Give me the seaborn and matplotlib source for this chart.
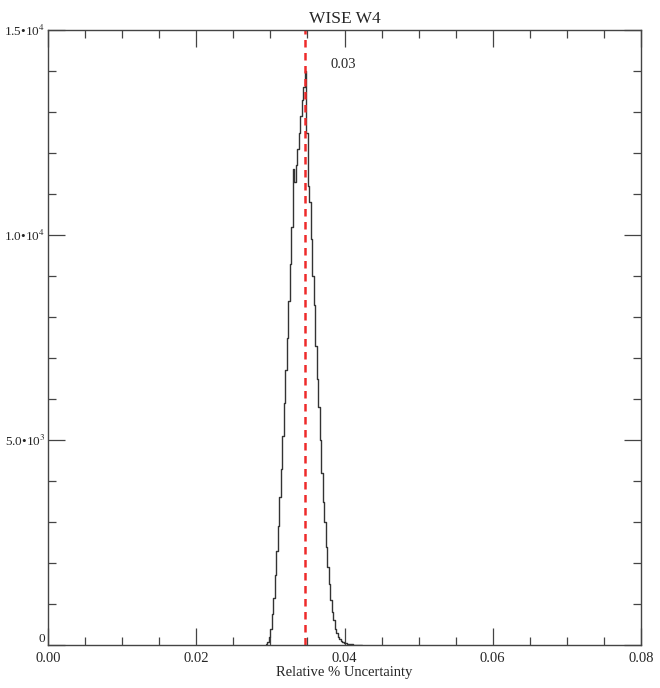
import numpy as np
import pandas as pd
import matplotlib
matplotlib.use('Agg')
import matplotlib.pyplot as plt
import seaborn as sns

# Histograma WISE W4: incertesa relativa (bins de 0.0002)
bin_start = 0.0294
bin_width = 0.0002
counts = [20, 80, 200, 400, 750, 1150, 1700, 2300, 2900, 3600,
          4300, 5100, 5900, 6700, 7500, 8400, 9300, 10200, 11600, 11300,
          11700, 12100, 12500, 12900, 13300, 13600, 14000, 12500, 11200, 10800,
          9900, 9000, 8300, 7300, 6500, 5800, 5000, 4200, 3500, 3000,
          2400, 1900, 1500, 1100, 800, 600, 400, 300, 200, 150,
          100, 80, 60, 45, 35, 25, 20, 15, 10, 8,
          6, 4, 3, 2, 1]
median_val = 0.0347
median_label = '0.03'
x_ticks = [0.00, 0.02, 0.04, 0.06, 0.08]
y_ticks = [0, 5000, 10000, 15000]
y_labels = ['0', '5.0•10$^{3}$', '1.0•10$^{4}$', '1.5•10$^{4}$']

edges = bin_start + bin_width * np.arange(len(counts) + 1)
df = pd.DataFrame({'x': (edges[:-1] + edges[1:]) / 2, 'n': counts})

sns.set_style('ticks')
plt.rcParams['font.family'] = ['Liberation Serif', 'DejaVu Serif']
plt.rcParams['mathtext.fontset'] = 'stix'

fig = plt.figure(figsize=(6.6, 6.88), dpi=100)
ax = fig.add_axes([48 / 660, 43 / 688, 593 / 660, 615 / 688])

sns.histplot(data=df, x='x', weights='n', binwidth=bin_width,
             binrange=(edges[0], edges[-1] - bin_width / 2), element='step',
             fill=False, color='#333333', linewidth=1.0, ax=ax)

ax.axvline(median_val, color='#ee2a2a', linestyle=(0, (3, 2.2)), linewidth=1.8)
ax.text(median_val + 0.0034, 14150, median_label, fontsize=10.5, ha='left', va='center')

ax.set_xlim(0, 0.08)
ax.set_ylim(0, 15000)
ax.set_xticks(x_ticks)
ax.set_xticklabels(['%.2f' % v for v in x_ticks], fontsize=10.5)
ax.set_xticks(np.arange(0, 0.0801, 0.005), minor=True)
ax.set_yticks(y_ticks)
ax.set_yticklabels(y_labels, fontsize=9.5)
ax.set_yticks(np.arange(0, 15001, 1000), minor=True)

ax.tick_params(which='both', direction='in', top=True, right=True, color='#444444', width=0.9)
ax.tick_params(which='major', length=12)
ax.tick_params(axis='x', which='major', pad=5)
ax.tick_params(axis='y', which='major', pad=2)
ax.tick_params(which='minor', length=6)
for s in ax.spines.values():
    s.set_color('#444444')
    s.set_linewidth(1.0)
ax.get_yticklabels()[0].set_va('bottom')

ax.set_xlabel('Relative % Uncertainty', fontsize=10.5, labelpad=1)
ax.set_ylabel('')
ax.set_title('WISE W4', fontsize=12.5, pad=5)

plt.savefig('out.png', dpi=100)
